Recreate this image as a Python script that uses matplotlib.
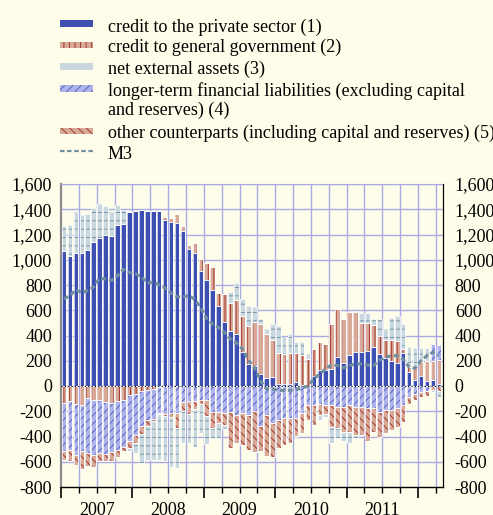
import numpy as np
import matplotlib
matplotlib.use('Agg')
import matplotlib.pyplot as plt
from matplotlib.patches import Rectangle
from matplotlib.lines import Line2D
from matplotlib.ticker import FuncFormatter, FixedLocator
import matplotlib.transforms as mtrans

plt.rcParams['font.family'] = ['Liberation Serif', 'DejaVu Serif']
plt.rcParams['hatch.linewidth'] = 0.7

# ---------------- data (EUR billions, annual flows, monthly Jan 2007 - Apr 2012)
years = ['2007', '2008', '2009', '2010', '2011']
private = [1072, 1033, 1056, 1056, 1077, 1140, 1170, 1195, 1187, 1273, 1280, 1378,
           1386, 1391, 1388, 1386, 1383, 1318, 1299, 1294, 1226, 1085, 1056, 912,
           837, 758, 633, 507, 437, 410, 270, 175, 162, 97, 65, 71,
           15, 15, 15, 30, 8, 0, 76, 128, 128, 131, 233, 183,
           246, 272, 267, 274, 311, 254, 220, 201, 183, 261, 110, 44,
           76, 37, 50, 15]
government = [-131, -120, -141, -152, -94, -107, -113, -126, -131, -120, -113, -73,
              -60, -40, -30, -20, -5, 21, 31, 71, 42, 31, 73, 92,
              136, 181, 104, 222, 222, 275, 285, 300, 345, 392, 345, 295,
              244, 236, 244, 228, 241, 214, 217, 217, 204, 358, 373, 350,
              342, 316, 230, 223, 170, 143, 146, 165, 170, 30, 40, 118,
              112, 164, 150, 188]
external = [193, 240, 319, 298, 288, 272, 273, 232, 191, 157, 116, -26,
            -80, -230, -270, -310, -360, -360, -400, -320, -250, -230, -300, -230,
            -220, -78, -117, -30, 88, 131, 135, 160, 120, 44, 40, 123,
            214, 138, 156, 91, 99, 40, -10, -39, -20, -130, -78, -78,
            -91, -26, 78, 78, 52, 136, 84, 175, 202, 198, 156, 136,
            110, 97, -15, -50]
longterm = [-381, -385, -408, -360, -437, -437, -418, -413, -392, -387, -370, -366,
            -330, -280, -240, -240, -210, -225, -215, -210, -130, -120, -120, -110,
            -110, -204, -204, -217, -204, -230, -217, -230, -200, -320, -230, -296,
            -270, -256, -256, -256, -217, -152, -152, -139, -152, -152, -165, -165,
            -152, -165, -165, -178, -178, -204, -191, -191, -178, -152, -86, -60,
            -50, -40, 130, 118]
other = [-71, -86, -73, -142, -104, -99, -65, -57, -68, -58, -30, -53,
         -60, -60, -50, -20, -10, -10, -30, -120, -70, -100, -60, -30,
         -130, -131, -92, -92, -288, -222, -249, -275, -320, -196, -327, -269,
         -223, -210, -196, -144, -157, -117, -157, -91, -70, -170, -170, -196,
         -209, -222, -222, -261, -183, -196, -183, -157, -144, -130, -53, -53,
         -36, -38, -34, -40]
m3 = [690, 716, 763, 737, 758, 784, 855, 847, 837, 873, 925, 899,
      889, 868, 816, 821, 802, 776, 737, 706, 706, 716, 685, 620,
      533, 489, 463, 424, 371, 340, 293, 204, 149, 44, -21, -25,
      -34, -34, -34, -30, -16, 0, 57, 97, 136, 170, 162, 144,
      162, 175, 175, 166, 162, 201, 227, 240, 240, 214, 149, 141,
      201, 240, 267, 240]

labels = ['credit to the private sector (1)',
          'credit to general government (2)',
          'net external assets (3)',
          'longer-term financial liabilities (excluding capital\nand reserves) (4)',
          'other counterparts (including capital and reserves) (5)',
          'M3']

# ---------------- styles
BG = '#FEFDE9'
GRID = '#A9A9E6'
BLUE = '#3D50B2'
SALMON = '#D8A898'
DARKRED = '#A33A2C'
GREY = '#C8D8DE'
GREYLINE = '#7A98A8'
LTBLUE = '#AEB4EA'
LTLINE = '#5A64C4'
M3COL = '#6F8E9E'

styles = {
    'private': dict(fc=BLUE, hc=BLUE, hatch=None),
    'government': dict(fc=SALMON, hc=DARKRED, hatch='|||'),
    'longterm': dict(fc=LTBLUE, hc=LTLINE, hatch='////'),
    'other': dict(fc=SALMON, hc=DARKRED, hatch='\\\\\\\\'),
    'external': dict(fc=GREY, hc=GREYLINE, hatch='--'),
}

W, H = 493, 515
fig = plt.figure(figsize=(W / 100, H / 100), dpi=100, facecolor=BG)
ax_left, ax_right, ax_top, ax_bot = 61, 443, 184, 487
ax = fig.add_axes([ax_left / W, 1 - ax_bot / H, (ax_right - ax_left) / W, (ax_bot - ax_top) / H])
ax.set_facecolor(BG)

n = len(private)
x = np.arange(n) + 0.5
width = 0.78

order = [('private', private), ('government', government), ('longterm', longterm),
         ('other', other), ('external', external)]
pos_base = np.zeros(n)
neg_base = np.zeros(n)
for name, vals in order:
    st = styles[name]
    v = np.array(vals, dtype=float)
    pos = np.where(v > 0, v, 0.0)
    neg = np.where(v < 0, v, 0.0)
    for part, base in ((pos, pos_base), (neg, neg_base)):
        ax.bar(x, part, width, bottom=base, color=st['fc'], edgecolor=st['hc'],
               hatch=st['hatch'], linewidth=0, zorder=2)
        ax.bar(x, part, width, bottom=base, facecolor='none', edgecolor='white',
               linewidth=0.5, zorder=2.1)
    pos_base += pos
    neg_base += neg

ax.plot(x, m3, color=M3COL, lw=2.2, ls=(0, (1.6, 1.0)), zorder=5)
ax.axhline(0, color='black', lw=0.8, ls=(0, (1, 2)), zorder=4)

ax.set_xlim(0, 64.2)
ax.set_ylim(-800, 1600)
yt = np.arange(-800, 1601, 200)
ax.yaxis.set_major_locator(FixedLocator(yt))
fmt = FuncFormatter(lambda v, p: f"{int(v):,}")
ax.yaxis.set_major_formatter(fmt)
ax.tick_params(axis='y', length=0, labelsize=13, pad=6.5)

# x ticks: years long, quarters short
ax.xaxis.set_major_locator(FixedLocator(np.arange(0, 64, 12)))
ax.xaxis.set_minor_locator(FixedLocator(np.arange(0, 64, 3)))
ax.tick_params(axis='x', which='major', length=8, width=1.2, labelbottom=False, color='black')
ax.tick_params(axis='x', which='minor', length=4.5, width=1, color='black')

# grid
for v in yt[1:]:
    ax.axhline(v, color=GRID, lw=1, zorder=0.5)
for q in np.arange(3, 64, 3):
    ax.axvline(q, color=GRID, lw=1, zorder=0.5)

ax.spines['top'].set_color(GRID)
ax.spines['left'].set_color('#8C8C8C')
ax.spines['left'].set_linewidth(1.6)
ax.spines['left'].set_zorder(1)
ax.spines['right'].set_color('black')
ax.spines['bottom'].set_color('black')
ax.spines['bottom'].set_linewidth(1)

trans = mtrans.blended_transform_factory(ax.transData, ax.transAxes)
for i, yr in enumerate(years):
    ax.text(6 + 12 * i, -0.078, yr, transform=trans, ha='center', va='center', fontsize=13)

ax2 = ax.twinx()
ax2.set_ylim(-800, 1600)
ax2.yaxis.set_major_locator(FixedLocator(yt))
ax2.yaxis.set_major_formatter(fmt)
ax2.tick_params(axis='y', length=0, labelsize=13, pad=8.5)
for s in ['top', 'left', 'bottom']:
    ax2.spines[s].set_visible(False)
ax2.spines['right'].set_color('black')

# ---------------- legend (manual)
def fx(px):
    return px / W

def fy(py):
    return 1 - py / H

handle_rows = [23.7, 45.0, 66.5, 88.5, 131.0]
text_rows = [23.7, 44.5, 66.0, 87.5, 130.5, 151.5]
keys = ['private', 'government', 'external', 'longterm', 'other']
for k, yc in zip(keys, handle_rows):
    st = styles[k]
    h = 6.5
    fig.patches.append(Rectangle((fx(60), fy(yc + h / 2)), fx(93) - fx(60), h / H,
                                 transform=fig.transFigure, facecolor=st['fc'],
                                 edgecolor=st['hc'], hatch=st['hatch'], linewidth=0))
fig.lines.append(Line2D([fx(60), fx(93)], [fy(151), fy(151)], transform=fig.transFigure,
                        color=M3COL, lw=1.6, ls=(0, (2, 1.2))))
for lab, yc in zip(labels, text_rows):
    fig.text(fx(108), fy(yc - 5.5), lab, ha='left', va='top', fontsize=13,
             linespacing=1.12)

fig.savefig('out.png', dpi=100, facecolor=BG)
